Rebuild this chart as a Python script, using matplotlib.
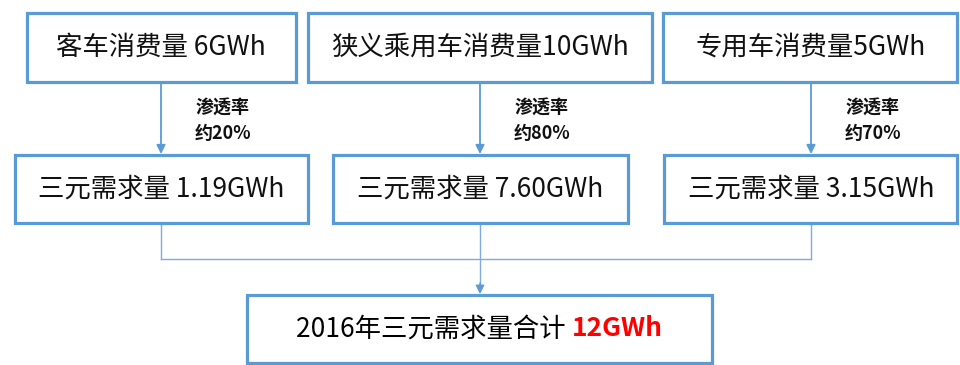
import matplotlib
matplotlib.use('Agg')
import matplotlib.pyplot as plt
from matplotlib.patches import Rectangle

plt.rcParams['font.family'] = ['Noto Sans CJK SC', 'DejaVu Sans']

# ---- data ----
categories = ['客车', '狭义乘用车', '专用车']
consumption_gwh = [6, 10, 5]
label_sep = [' ', '', '']
penetration_pct = [20, 80, 70]
ternary_gwh = [1.19, 7.60, 3.15]
total_year = 2016
total_gwh = 12

# ---- layout (pixel space) ----
W, H = 960, 365
BLUE = '#5B9BD5'
LINE = '#7EADDC'

fig = plt.figure(figsize=(W / 100, H / 100), dpi=100)
ax = fig.add_axes([0, 0, 1, 1])
ax.set_xlim(0, W)
ax.set_ylim(H, 0)
ax.axis('off')

top_x = [(27, 296), (308, 652), (663, 957)]
top_y = (13, 82)
mid_x = [(15, 308), (333, 628), (664, 957)]
mid_y = (155, 223)
bot_x = (247, 712)
bot_y = (295, 363)
col_x = [161, 480, 811]
join_y = 259


def box(x0, x1, y0, y1):
    ax.add_patch(Rectangle((x0, y0), x1 - x0, y1 - y0, fill=False,
                           edgecolor=BLUE, linewidth=2.3, zorder=3))


def arrow(x, y0, y1, color, lw):
    ax.annotate('', xy=(x, y1), xytext=(x, y0),
                arrowprops=dict(arrowstyle='-|>', color=color, lw=lw,
                                mutation_scale=13, shrinkA=0, shrinkB=0))


for i, cat in enumerate(categories):
    box(*top_x[i], *top_y)
    box(*mid_x[i], *mid_y)
    cx = col_x[i]
    ax.text(cx, sum(top_y) / 2, f'{cat}消费量{label_sep[i]}{consumption_gwh[i]}GWh',
            ha='center', va='center', fontsize=19, color='#111111')
    ax.text(cx, sum(mid_y) / 2, f'三元需求量 {ternary_gwh[i]:.2f}GWh',
            ha='center', va='center', fontsize=19, color='#111111')
    arrow(cx, top_y[1] + 1, mid_y[0] - 1, BLUE, 1.3)
    ax.text(cx + 62, 108, '渗透率', ha='center', va='center',
            fontsize=13, fontweight='bold', color='#111111')
    ax.text(cx + 62, 133, f'约{penetration_pct[i]}%', ha='center', va='center',
            fontsize=13, fontweight='bold', color='#111111')

# connectors to total
for cx in (col_x[0], col_x[2]):
    ax.plot([cx, cx], [mid_y[1] + 1, join_y], color=LINE, lw=1.0)
ax.plot([col_x[0], col_x[2]], [join_y, join_y], color=LINE, lw=1.0)
ax.plot([col_x[1], col_x[1]], [mid_y[1] + 1, bot_y[0] - 10], color=LINE, lw=1.0)
arrow(col_x[1], bot_y[0] - 12, bot_y[0] - 1, BLUE, 1.0)

box(*bot_x, *bot_y)
cy = sum(bot_y) / 2
t1 = ax.text(0, cy, f'{total_year}年三元需求量合计 ', ha='left', va='center',
             fontsize=19, color='black')
t2 = ax.text(0, cy, f'{total_gwh}GWh', ha='left', va='center',
             fontsize=19, fontweight='bold', color='#FF0000')
fig.canvas.draw()
r = fig.canvas.get_renderer()
w1 = t1.get_window_extent(r).width
w2 = t2.get_window_extent(r).width
start = (bot_x[0] + bot_x[1]) / 2 - (w1 + w2) / 2
t1.set_x(start)
t2.set_x(start + w1)

fig.savefig('out.png', dpi=100)
